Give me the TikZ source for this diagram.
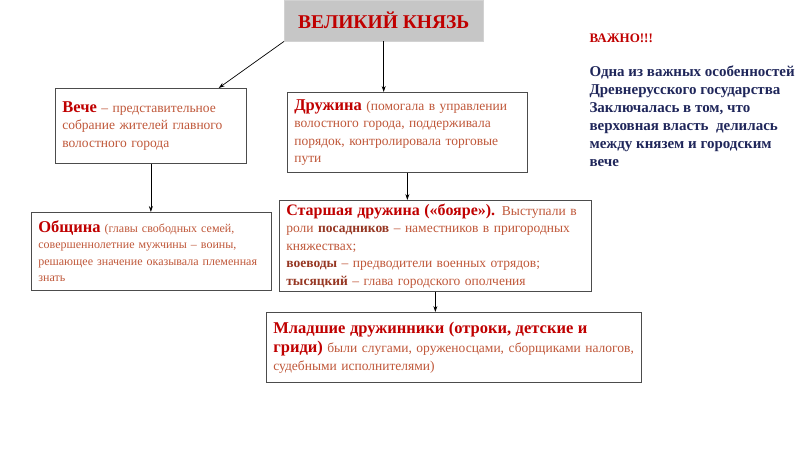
\documentclass[tikz,border=0pt]{standalone}
\usepackage{fontspec}
\setmainfont{Liberation Serif}
\usetikzlibrary{arrows.meta}

\definecolor{headred}{RGB}{192,0,0}
\definecolor{bodybrown}{RGB}{192,88,58}
\definecolor{termbrown}{RGB}{150,55,35}
\definecolor{notenavy}{RGB}{31,38,90}

\tikzset{
  box/.style={draw=black!70, line width=0.7pt, fill=white, anchor=north west,
    align=left, inner xsep=7pt, text=bodybrown,
    font=\fontsize{13.5}{17.5}\selectfont},
  titlebox/.style={draw=gray!35, fill=gray!45, anchor=north west,
    minimum width=199pt, minimum height=41pt, text=headred,
    font=\fontsize{19.5}{21}\selectfont\bfseries},
  link/.style={->, line width=0.7pt},
}

\newcommand{\head}[1]{{\color{headred}\bfseries\fontsize{16.5}{17.5}\selectfont #1}}
\newcommand{\term}[1]{{\color{termbrown}\bfseries #1}}

\begin{document}
\begin{tikzpicture}[x=1pt,y=-1pt,>={Stealth[length=6pt,width=4pt]}]

    \useasboundingbox (0,0) rectangle (800,450);

    % Prince
    \node[titlebox] (title) at (284,0) {ВЕЛИКИЙ КНЯЗЬ};

    % First level
    \node[box, text width=177pt, minimum height=75pt] (veche) at (55,88)
        {\head{Вече} – представительное\\собрание жителей главного\\волостного города};
    \node[box, text width=226pt, minimum height=80pt] (druzh) at (287,92)
        {\head{Дружина} (помогала в управлении\\волостного города, поддерживала\\порядок, контролировала торговые\\пути};

    % Second level
    \node[box, text width=226pt, minimum height=78pt,
          font=\fontsize{12}{16.5}\selectfont] (obsh) at (31,212)
        {\head{Община} (главы свободных семей,\\совершеннолетние мужчины – воины,\\решающее значение оказывала племенная\\знать};
    \node[box, text width=298pt, minimum height=90pt] (star) at (279,200)
        {{\color{headred}\bfseries\fontsize{16}{17.5}\selectfont Старшая дружина («бояре»).} Выступали~в\\роли \term{посадников} – наместников в пригородных\\княжествах;\\\term{воеводы} – предводители военных отрядов;\\\term{тысяцкий} – глава городского ополчения};

    % Third level
    \node[box, text width=361pt, minimum height=70pt] (mlad) at (266,312)
        {{\color{headred}\bfseries\fontsize{16.5}{20}\selectfont Младшие дружинники (отроки, детские и}\\[2pt]\head{гриди)} были слугами, оруженосцами, сборщиками налогов,\\судебными исполнителями)};

    % Note
    \node[anchor=north west, align=left, text=notenavy,
          font=\fontsize{15}{18}\selectfont\bfseries] (note) at (586,30)
        {{\color{headred}\fontsize{13}{18}\selectfont ВАЖНО!!!}\\[16pt]Одна из важных особенностей\\Древнерусского государства\\Заключалась в том, что\\верховная власть~ делилась\\между князем и городским\\вече};

    % Arrows
    \draw[link] (title.south west) -- ([xshift=-28pt]veche.north east);
    \draw[link] (title.south) -- (title.south |- druzh.north);
    \draw[link] (veche.south) -- (veche.south |- obsh.north);
    \draw[link] (druzh.south) -- (druzh.south |- star.north);
    \draw[link] (star.south) -- (star.south |- mlad.north);
\end{tikzpicture}
\end{document}
